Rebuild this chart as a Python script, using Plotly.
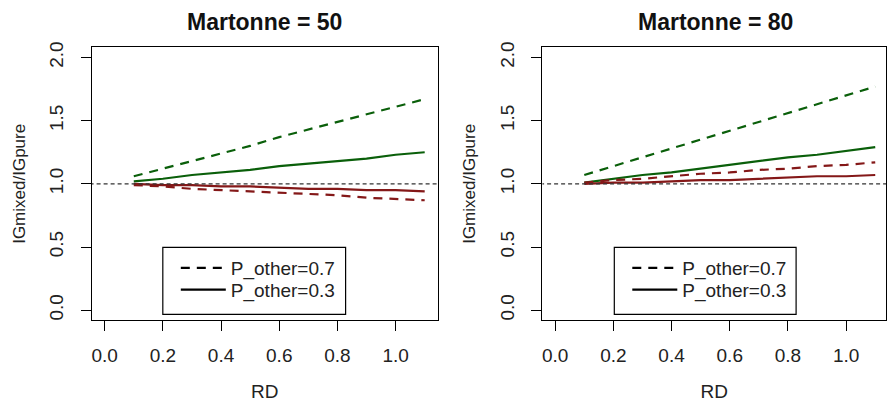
import plotly.graph_objects as go

# ---- data ----
rd = [0.1, 0.2, 0.3, 0.4, 0.5, 0.6, 0.7, 0.8, 0.9, 1.0, 1.1]

# Martonne = 50
m50_green_p07 = [1.06, 1.12, 1.18, 1.24, 1.30, 1.37, 1.43, 1.49, 1.55, 1.61, 1.67]
m50_green_p03 = [1.02, 1.04, 1.07, 1.09, 1.11, 1.14, 1.16, 1.18, 1.20, 1.23, 1.25]
m50_red_p07 = [0.99, 0.98, 0.96, 0.95, 0.94, 0.93, 0.92, 0.91, 0.89, 0.88, 0.87]
m50_red_p03 = [1.00, 0.99, 0.99, 0.98, 0.98, 0.97, 0.96, 0.96, 0.95, 0.95, 0.94]

# Martonne = 80
m80_green_p07 = [1.07, 1.14, 1.21, 1.28, 1.35, 1.42, 1.49, 1.56, 1.63, 1.70, 1.77]
m80_green_p03 = [1.01, 1.04, 1.07, 1.09, 1.12, 1.15, 1.18, 1.21, 1.23, 1.26, 1.29]
m80_red_p07 = [1.01, 1.03, 1.04, 1.06, 1.08, 1.09, 1.11, 1.12, 1.14, 1.15, 1.17]
m80_red_p03 = [1.00, 1.01, 1.01, 1.02, 1.03, 1.03, 1.04, 1.05, 1.06, 1.06, 1.07]

titles = ["Martonne = 50", "Martonne = 80"]
legend_names = ["P_other=0.7", "P_other=0.3"]
x_ticks = [0.0, 0.2, 0.4, 0.6, 0.8, 1.0]
x_ticklabels = ["0.0", "0.2", "0.4", "0.6", "0.8", "1.0"]
y_ticks = [0.0, 0.5, 1.0, 1.5, 2.0]
y_ticklabels = ["0.0", "0.5", "1.0", "1.5", "2.0"]
ref_line = 1.0

# ---- style ----
W, H = 887, 406
FONT = "Liberation Sans, Arial, sans-serif"
GREEN = "#0a5f0a"
RED = "#841818"
DASH = "9px,7px"
TXT = "#222222"

def px_x(p):
    return p / W

def px_y(p):
    return 1 - p / H

fig = go.Figure()

panels = [
    ("x", "y", [m50_green_p07, m50_green_p03, m50_red_p07, m50_red_p03], ["legend", "legend2"]),
    ("x2", "y2", [m80_green_p07, m80_green_p03, m80_red_p07, m80_red_p03], ["legend3", "legend4"]),
]

for xa, ya, series, lgs in panels:
    colors = [GREEN, GREEN, RED, RED]
    dashes = [DASH, "solid", DASH, "solid"]
    for s, c, d in zip(series, colors, dashes):
        fig.add_trace(go.Scatter(x=rd, y=s, mode="lines", xaxis=xa, yaxis=ya,
                                 line=dict(color=c, width=2.2, dash=d),
                                 showlegend=False, hoverinfo="skip"))
    # reference line
    fig.add_trace(go.Scatter(x=[-0.1, 1.3], y=[ref_line, ref_line], mode="lines",
                             xaxis=xa, yaxis=ya,
                             line=dict(color="#333333", width=1.3, dash="4px,3px"),
                             showlegend=False, hoverinfo="skip"))
    # legend entries
    for name, d, lg in zip(legend_names, [DASH, "solid"], lgs):
        fig.add_trace(go.Scatter(x=[None], y=[None], mode="lines", xaxis=xa, yaxis=ya,
                                 line=dict(color="black", width=2.2, dash=d),
                                 name=name, legend=lg))

ydom = [px_y(319), px_y(42)]
axis_common = dict(showgrid=False, zeroline=False, showline=True, mirror=True,
                   linecolor="black", linewidth=1.2, ticks="outside", ticklen=10,
                   tickcolor="black", tickwidth=1.2,
                   tickfont=dict(family=FONT, size=19, color=TXT))

xaxis_kw = dict(axis_common, tickvals=x_ticks, ticktext=x_ticklabels,
                title=dict(text="RD", font=dict(family=FONT, size=19, color=TXT), standoff=19),
                ticklabelstandoff=8)
yaxis_kw = dict(axis_common, tickvals=y_ticks, ticktext=y_ticklabels, tickangle=-90,
                range=[-0.08, 2.08],
                title=dict(text="IGmixed/IGpure", font=dict(family=FONT, size=17, color=TXT), standoff=16),
                ticklabelstandoff=10)

def leg(xp, yp):
    return dict(x=px_x(xp), y=px_y(yp), xanchor="left", yanchor="middle",
                bgcolor="rgba(0,0,0,0)", borderwidth=0,
                font=dict(family=FONT, size=19, color=TXT), itemwidth=45)

fig.update_layout(
    width=W, height=H,
    margin=dict(l=0, r=0, t=0, b=0),
    paper_bgcolor="white", plot_bgcolor="white",
    xaxis=dict(xaxis_kw, domain=[px_x(92), px_x(438)], range=[-0.044, 1.144], anchor="y"),
    yaxis=dict(yaxis_kw, domain=ydom, anchor="x"),
    xaxis2=dict(xaxis_kw, domain=[px_x(543), 1.0], range=[-0.044, 1.137], anchor="y2"),
    yaxis2=dict(yaxis_kw, domain=ydom, anchor="x2"),
    legend=leg(176, 266),
    legend2=leg(176, 288),
    legend3=leg(628, 266),
    legend4=leg(628, 288),
    showlegend=True,
)

# legend boxes
for x0, x1 in [(163, 346), (615, 797)]:
    fig.add_shape(type="rect", xref="paper", yref="paper",
                  x0=px_x(x0), x1=px_x(x1), y0=px_y(313), y1=px_y(245),
                  line=dict(color="black", width=1.2), fillcolor="white", layer="above")

# panel titles
for t, cx in zip(titles, [265, 716]):
    fig.add_annotation(text="<b>%s</b>" % t, xref="paper", yref="paper",
                       x=px_x(cx), y=px_y(16), xanchor="center", yanchor="middle",
                       showarrow=False, font=dict(family=FONT, size=23, color="#111111"))

fig.write_html("out.html")
